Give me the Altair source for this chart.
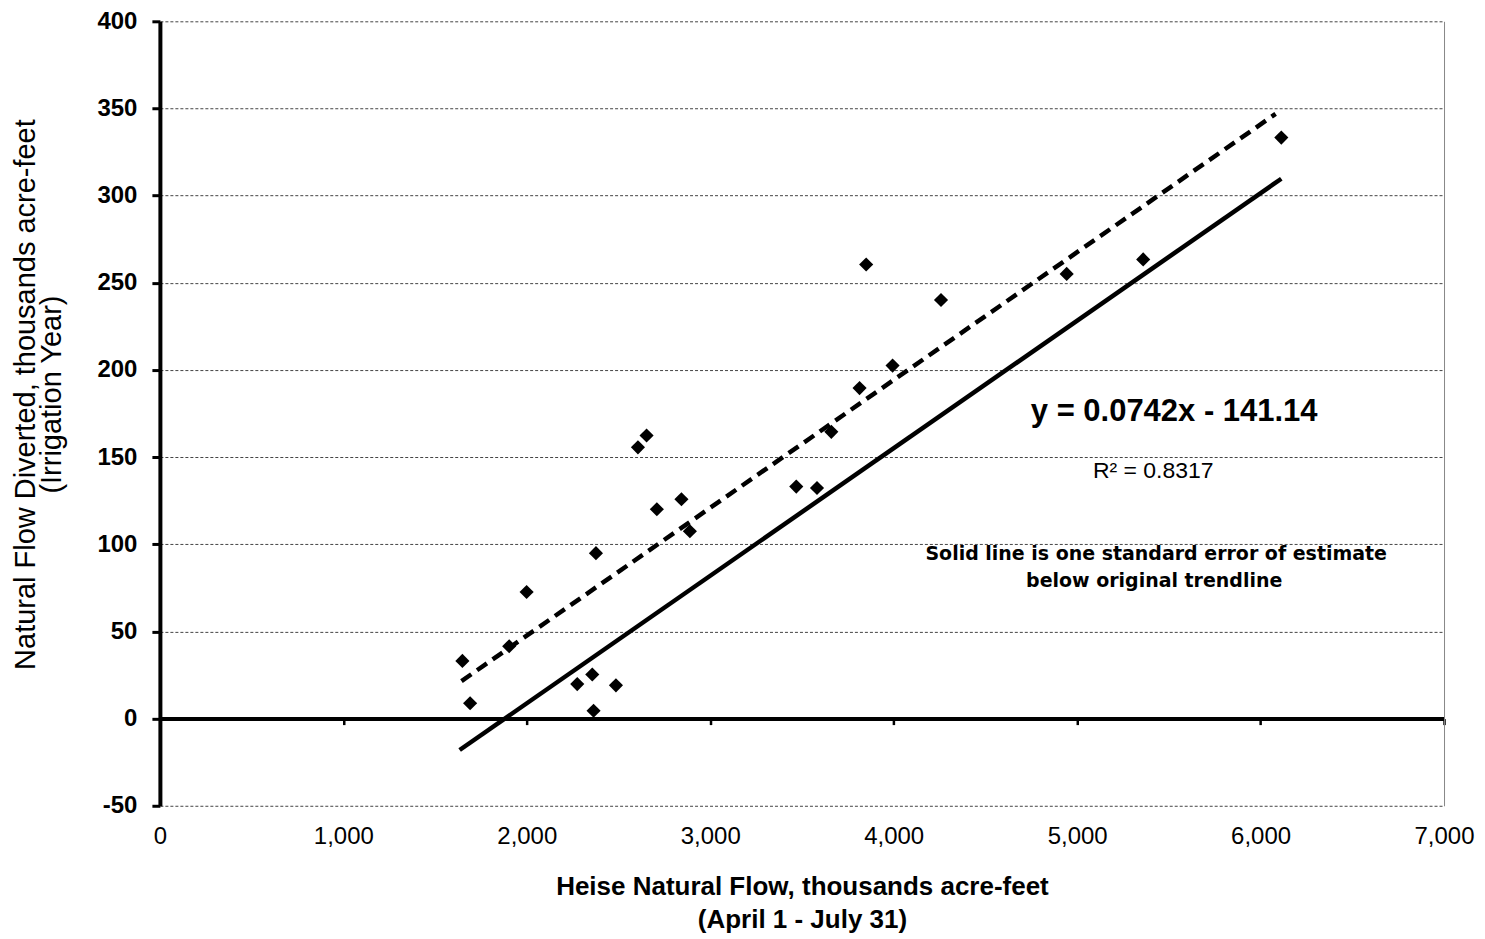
import altair as alt
import pandas as pd

# Scatter data (Heise natural flow vs natural flow diverted)
flow = [1649, 1691, 1904, 1999, 2275, 2357, 2364, 2377, 2486, 2606, 2653, 2709,
        2843, 2889, 3469, 3582, 3660, 3814, 3850, 3994, 4258, 4943, 5360, 6113]
diverted = [33.1, 8.8, 41.5, 72.6, 19.8, 25.3, 4.5, 94.9, 19.1, 155.6, 162.4, 120.1,
            125.8, 107.5, 133.1, 132.3, 164.5, 189.6, 260.5, 202.5, 240.1, 255.1, 263.4, 333.3]

# Trendline end points (dashed = original trendline, solid = one std error below)
dashed_x = [1644, 6082]
dashed_y = [21.5, 346.9]
solid_x = [1634, 6113]
solid_y = [-18, 309.7]

# Annotation texts and anchor positions (data units)
ann_text = ["y = 0.0742x - 141.14", "R\u00b2 = 0.8317",
            "Solid line is one standard error of estimate", "below original trendline"]
ann_x = [5529, 5415, 5431, 5420]
ann_y = [176, 142.2, 94.2, 78.7]

x_ticks = [0, 1000, 2000, 3000, 4000, 5000, 6000, 7000]
y_ticks = [-50, 0, 50, 100, 150, 200, 250, 300, 350, 400]

W, H = 1285, 785
Y0_FROM_BOTTOM = H * 50 / 450  # distance of y = 0 above the plot bottom

pts = pd.DataFrame({"flow": flow, "diverted": diverted})
dashed = pd.DataFrame({"flow": dashed_x, "diverted": dashed_y})
solid = pd.DataFrame({"flow": solid_x, "diverted": solid_y})
ann = pd.DataFrame({"flow": ann_x, "diverted": ann_y, "text": ann_text,
                    "kind": ["eq", "r2", "note", "note"]})

xscale = alt.Scale(domain=[0, 7000], nice=False, zero=False)
yscale = alt.Scale(domain=[-50, 400], nice=False, zero=False)

x_axis = alt.Axis(
    values=x_ticks, format=",d", offset=-Y0_FROM_BOTTOM,
    domainColor="black", domainWidth=4,
    tickColor="black", tickWidth=2.5, tickSize=6,
    labelPadding=100, labelFont="Liberation Sans", labelFontSize=24,
    labelColor="black", labelFontWeight="normal", labelFlush=False,
    grid=False,
    title=["Heise Natural Flow, thousands  acre-feet", "(April 1  - July 31)"],
    titleFont="Liberation Sans", titleFontSize=26, titleFontWeight="bold",
    titleColor="black", titlePadding=25, titleLineHeight=33,
)

y_axis_left = alt.Axis(
    values=y_ticks,
    labelExpr="datum.value < 0 ? '-' + abs(datum.value) : '' + datum.value",
    domainColor="black", domainWidth=4,
    tickColor="black", tickWidth=3, tickSize=8,
    labelPadding=15, labelFont="Liberation Sans", labelFontSize=24,
    labelFontWeight="bold", labelColor="black",
    grid=True, gridColor="#444", gridDash=[3, 2], gridWidth=1,
    title=["Natural Flow Diverted, thousands  acre-feet", "(Irrigation Year)"],
    titleFont="Liberation Sans", titleFontSize=29, titleFontWeight="normal",
    titleColor="black", titlePadding=30, titleLineHeight=26, titleY=373,
)

y_axis_right = alt.Axis(
    orient="right", labels=False, ticks=False, grid=False, title=None,
    domainColor="#888", domainWidth=1,
)

points = alt.Chart(pts).mark_point(
    shape="diamond", filled=True, color="black", size=200, opacity=1
).encode(
    x=alt.X("flow:Q", scale=xscale, axis=x_axis),
    y=alt.Y("diverted:Q", scale=yscale, axis=y_axis_left),
)

dash_line = alt.Chart(dashed).mark_line(
    color="black", strokeWidth=4.5, strokeDash=[12, 7]
).encode(
    x=alt.X("flow:Q", scale=xscale, axis=x_axis),
    y=alt.Y("diverted:Q", scale=yscale, axis=y_axis_right),
)

solid_line = alt.Chart(solid).mark_line(color="black", strokeWidth=4.5).encode(
    x=alt.X("flow:Q", scale=xscale, axis=x_axis),
    y=alt.Y("diverted:Q", scale=yscale, axis=None),
)

eq_text = alt.Chart(ann).transform_filter(alt.datum.kind == "eq").mark_text(
    font="Liberation Sans", fontSize=31, fontWeight="bold", color="black",
    align="center", baseline="middle"
).encode(
    x=alt.X("flow:Q", scale=xscale, axis=x_axis),
    y=alt.Y("diverted:Q", scale=yscale, axis=None),
    text="text:N",
)

r2_text = alt.Chart(ann).transform_filter(alt.datum.kind == "r2").mark_text(
    font="Liberation Sans", fontSize=23, fontWeight="normal", color="black",
    align="center", baseline="middle"
).encode(
    x=alt.X("flow:Q", scale=xscale, axis=x_axis),
    y=alt.Y("diverted:Q", scale=yscale, axis=None),
    text="text:N",
)

note_text = alt.Chart(ann).transform_filter(alt.datum.kind == "note").mark_text(
    font="DejaVu Sans", fontSize=19, fontWeight="bold", color="black",
    align="center", baseline="middle"
).encode(
    x=alt.X("flow:Q", scale=xscale, axis=x_axis),
    y=alt.Y("diverted:Q", scale=yscale, axis=None),
    text="text:N",
)

chart = alt.layer(
    points, dash_line, solid_line, eq_text, r2_text, note_text
).resolve_axis(y="independent").properties(
    width=W, height=H,
    autosize=alt.AutoSizeParams(type="none"),
    padding={"left": 152, "top": 13, "right": 33, "bottom": 128},
    background="white",
).configure_view(stroke=None)

chart.save("out.html", embed_options={"renderer": "svg", "actions": False})
